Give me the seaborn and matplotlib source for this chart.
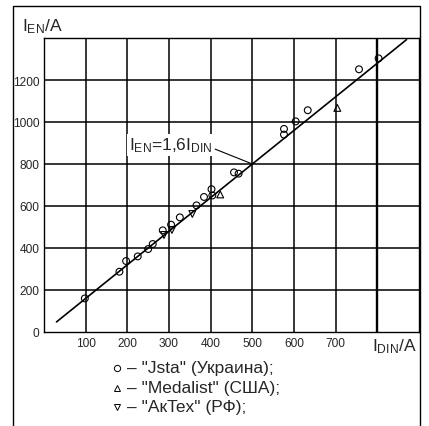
import matplotlib
matplotlib.use("Agg")
import matplotlib.pyplot as plt
from matplotlib.lines import Line2D
import seaborn as sns

jsta_din = [98, 181, 197, 225, 250, 261, 285, 305, 326, 366, 384, 402, 404,
            456, 467, 576, 576, 604, 633, 756, 803]
jsta_en = [160, 287, 338, 360, 395, 419, 484, 511, 546, 603, 643, 680, 650,
           760, 754, 967, 940, 1003, 1056, 1251, 1303]
medalist_din = [423, 704]
medalist_en = [655, 1067]
aktex_din = [288, 307, 356]
aktex_en = [462, 486, 562]

# fitted line I_EN = 1,6 I_DIN
line_din = [30, 870]
line_en = [48, 1392]

x_ticks = [100, 200, 300, 400, 500, 600, 700, 800]
x_ticklabels = ["100", "200", "300", "400", "500", "600", "700", ""]
y_ticks = [0, 200, 400, 600, 800, 1000, 1200, 1400]
y_ticklabels = ["0", "200", "400", "600", "800", "1000", "1200", ""]

legend_labels = ['– "Jsta" (Украина);', '– "Medalist" (США);', '– "AкTex" (РФ);']
legend_markers = ["o", "^", "v"]

sns.set_style("white")
plt.rcParams["font.family"] = ["Liberation Sans", "DejaVu Sans"]
plt.rcParams["mathtext.fontset"] = "custom"
plt.rcParams["mathtext.rm"] = "Liberation Sans"
plt.rcParams["mathtext.it"] = "Liberation Sans"

W, H = 429, 427
fig = plt.figure(figsize=(W / 100, H / 100), dpi=100)
ax = fig.add_axes([44 / W, 1 - 333 / H, (419 - 44) / W, (333 - 39) / H])

ax.set_xlim(0, 900)
ax.set_ylim(0, 1400)

# grid
for xv in x_ticks:
    ax.axvline(xv, color="black", lw=1.7 if xv == 800 else 1.1, zorder=1)
for yv in y_ticks[1:-1]:
    ax.axhline(yv, color="black", lw=1.1, zorder=1)

sns.lineplot(x=line_din, y=line_en, ax=ax, color="black", lw=1.2, zorder=3)

pts_kw = dict(ax=ax, facecolors="none", edgecolor="black", linewidth=0.8,
              s=24, zorder=4, legend=False)
sns.scatterplot(x=jsta_din, y=jsta_en, marker="o", **pts_kw)
sns.scatterplot(x=medalist_din, y=medalist_en, marker="^", **pts_kw)
sns.scatterplot(x=aktex_din, y=aktex_en, marker="v", **pts_kw)

ax.annotate(r"I$_{\mathregular{EN}}$=1,6I$_{\mathregular{DIN}}$",
            xy=(500, 800), xytext=(203, 890), ha="left", va="center",
            fontsize=12.5, zorder=5,
            bbox=dict(boxstyle="square,pad=0.1", fc="white", ec="none"),
            arrowprops=dict(arrowstyle="-", color="black", lw=0.8,
                            relpos=(1.0, 0.35), shrinkA=1, shrinkB=0))

ax.set_xticks(x_ticks)
ax.set_xticklabels(x_ticklabels, fontsize=8.6)
ax.set_yticks(y_ticks)
ax.set_yticklabels(y_ticklabels, fontsize=8.6)
ax.tick_params(axis="both", length=2, width=0.8, color="black", pad=1.5)

for sp in ax.spines.values():
    sp.set_color("black")
    sp.set_linewidth(1.0)

ax.text(-0.059, 1.01, r"I$_{\mathregular{EN}}$/A", transform=ax.transAxes,
        fontsize=12.5, ha="left", va="bottom")
ax.text(0.995, -0.015, r"I$_{\mathregular{DIN}}$/A", transform=ax.transAxes,
        fontsize=12.5, ha="right", va="top")

# legend lines below the chart
for i, (lab, mk) in enumerate(zip(legend_labels, legend_markers)):
    yp = 1 - (369 + i * 19.5) / H
    fig.add_artist(Line2D([117 / W], [yp], marker=mk, markersize=4.5,
                          markerfacecolor="none", markeredgecolor="black",
                          markeredgewidth=0.7, linestyle="none"))
    fig.text(127 / W, yp, lab, fontsize=12.5, ha="left", va="center")

# outer frame (left, top, right)
fx = [13 / W, 13 / W, 420 / W, 420 / W]
fy = [0, 1 - 7 / H, 1 - 7 / H, 0]
fig.add_artist(Line2D(fx, fy, color="black", lw=1.0))

fig.savefig("out.png", dpi=100)
